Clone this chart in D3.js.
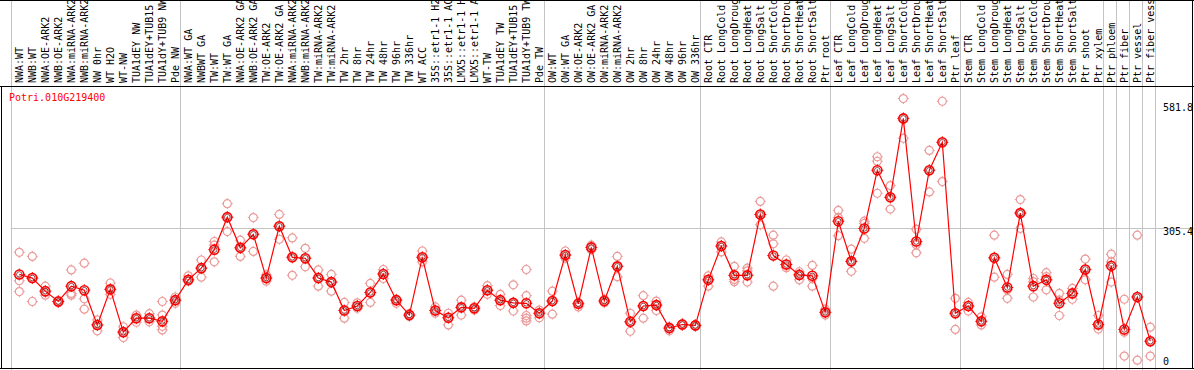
<!DOCTYPE html>
<html>
<head>
<meta charset="utf-8">
<script src="https://cdn.jsdelivr.net/npm/d3@7"></script>
<style>
  body { margin: 0; background: #fff; }
  text { font-family: "DejaVu Sans Mono", monospace; font-size: 10px; }
</style>
</head>
<body>
<div class="chart-container"></div>
<script>
const gene = "Potri.010G219400";

const samples = [
  "NWA:WT", "NWB:WT", "NWA:OE-ARK2", "NWB:OE-ARK2", "NWA:miRNA-ARK2", "NWB:miRNA-ARK2",
  "NW 0hr", "WT H2O", "WT-NW", "TUA1dEY NW", "TUA1dEY+TUB15", "TUA1dY+TUB9 NW", "Pde NW",
  "NWA:WT GA", "NWBWT GA", "TW:WT", "TW:WT GA", "NWA:OE-ARK2 GA", "NWB:OE-ARK2 GA",
  "TW:OE-ARK2", "TW:OE-ARK2 GA", "NWA:miRNA-ARK2", "NWB:miRNA-ARK2", "TW:miRNA-ARK2",
  "TW:miRNA-ARK2", "TW 2hr", "TW 8hr", "TW 24hr", "TW 48hr", "TW 96hr", "TW 336hr",
  "WT ACC", "35S::etr1-1 H2", "35S::etr1-1 AC", "LMX5::etr1-1 H", "LMX5::etr1-1 A",
  "WT-TW", "TUA1dEY TW", "TUA1dEY+TUB15", "TUA1dY+TUB9 TW", "Pde TW",
  "OW:WT", "OW:WT GA", "OW:OE-ARK2", "OW:OE-ARK2 GA", "OW:miRNA-ARK2", "OW:miRNA-ARK2",
  "OW 2hr", "OW 8hr", "OW 24hr", "OW 48hr", "OW 96hr", "OW 336hr",
  "Root CTR", "Root LongCold", "Root LongDroug", "Root LongHeat", "Root LongSalt",
  "Root ShortCold", "Root ShortDrou", "Root ShortHeat", "Root ShortSalt", "Ptr root",
  "Leaf CTR", "Leaf LongCold", "Leaf LongDroug", "Leaf LongHeat", "Leaf LongSalt",
  "Leaf ShortCold", "Leaf ShortDrou", "Leaf ShortHeat", "Leaf ShortSalt", "Ptr leaf",
  "Stem CTR", "Stem LongCold", "Stem LongDroug", "Stem LongHeat", "Stem LongSalt",
  "Stem ShortCold", "Stem ShortDrou", "Stem ShortHeat", "Stem ShortSalt",
  "Ptr shoot", "Ptr xylem", "Ptr phloem", "Ptr fiber", "Ptr vessel", "Ptr fiber vess"
];

// mean expression per sample
const means = [
  203, 195, 166, 143, 177, 168, 91, 170, 75, 106, 106, 99, 146,
  191, 217, 258, 330, 262, 292, 195, 310, 241, 239, 195, 186, 123, 133, 163, 204, 146, 113,
  241, 123, 107, 130, 128, 168, 146, 140, 139, 117,
  144, 246, 138, 263, 144, 221, 98, 133, 135, 84, 92, 90,
  191, 266, 201, 201, 336, 245, 225, 202, 200, 119,
  321, 232, 305, 434, 374, 549, 276, 434, 496, 117,
  133, 99, 240, 174, 339, 177, 191, 139, 161, 214,
  92, 222, 81, 153, 55
];

// individual replicates per sample
const replicates = [
  [252, 189, 165], [243, 143, 195], [177, 157, 163], [145, 140, 143], [213, 161, 157], [228, 149, 126],
  [102, 78, 91], [184, 159, 170], [87, 63, 75], [113, 97, 106], [116, 98, 106], [143, 113, 88, 80], [153, 139, 146],
  [200, 188, 191], [235, 197, 217], [276, 268, 231], [360, 298, 330], [279, 243, 262], [329, 254, 292],
  [202, 188, 195], [336, 281, 310], [284, 201, 241], [261, 220, 239], [213, 177, 195],
  [203, 166, 186], [141, 106, 123], [140, 128, 133], [183, 141, 163], [214, 194, 204], [148, 139, 146], [116, 110, 113],
  [255, 231, 241], [131, 117, 123], [117, 91, 107], [146, 113, 130], [131, 124, 128],
  [178, 159, 168], [159, 134, 146], [180, 122, 140], [214, 156, 112, 106, 100], [124, 107, 117],
  [166, 115, 144], [255, 239, 246], [141, 131, 138], [268, 258, 263], [148, 140, 144], [243, 198, 221],
  [117, 77, 98], [156, 106, 133], [144, 123, 135], [87, 78, 84], [94, 90, 92], [92, 88, 90],
  [200, 177, 191], [275, 253, 266], [221, 192, 187], [217, 211, 186], [365, 313, 336],
  [290, 271, 177], [235, 218, 225], [209, 191, 202], [223, 177, 194], [126, 113, 119],
  [345, 329, 289], [259, 210, 232], [321, 316, 283], [464, 454, 383], [400, 348, 374],
  [593, 505, 549], [303, 251, 269], [478, 386, 434], [587, 409, 496], [150, 81, 117],
  [141, 122, 133], [109, 91, 99], [290, 197, 240], [203, 169, 150], [369, 305, 339],
  [194, 153, 187], [207, 198, 169], [161, 112, 146], [172, 148, 161], [237, 191, 214],
  [112, 82, 92], [248, 231, 186], [148, 75, 22], [290, 13, 153], [86, 22, 55]
];

// last sample index of each group (a grey rule follows it)
const groupEnds = [12, 40, 52, 62, 72, 83, 84, 85, 86, 87];
const yTicks = [0, 305.4, 581.8];

const width = 1194, height = 370;
const headerBottom = 86;

const svg = d3.select(".chart-container").append("svg")
    .attr("width", width)
    .attr("height", height);

const x = d3.scalePoint()
    .domain(d3.range(samples.length))
    .range([19.3, 1150.3]);

const y = d3.scaleLinear()
    .domain([0, 581.8])
    .range([366, 103.6]);

// grey group separators, full height
const sepX = [x(0) - 8.6].concat(groupEnds.map(i => x(i) + 5));
svg.append("g")
    .selectAll("line")
    .data(sepX)
    .join("line")
    .attr("x1", d => Math.round(d) + 0.5)
    .attr("x2", d => Math.round(d) + 0.5)
    .attr("y1", 0)
    .attr("y2", height)
    .attr("stroke", "#c4c4c4")
    .attr("stroke-width", 1);

// horizontal grid at the middle tick
svg.append("line")
    .attr("x1", sepX[0])
    .attr("x2", width)
    .attr("y1", Math.round(y(305.4)) + 0.5)
    .attr("y2", Math.round(y(305.4)) + 0.5)
    .attr("stroke", "#c4c4c4");

// frame
svg.append("line").attr("x1", 0).attr("x2", width).attr("y1", 0.5).attr("y2", 0.5).attr("stroke", "black");
svg.append("line").attr("x1", 0).attr("x2", width).attr("y1", headerBottom + 0.5).attr("y2", headerBottom + 0.5).attr("stroke", "black");
svg.append("line").attr("x1", 0).attr("x2", width).attr("y1", height - 1.5).attr("y2", height - 1.5).attr("stroke", "black");
svg.append("line").attr("x1", 1.5).attr("x2", 1.5).attr("y1", headerBottom).attr("y2", height - 1).attr("stroke", "black");
svg.append("line").attr("x1", width - 1.5).attr("x2", width - 1.5).attr("y1", 0).attr("y2", height - 1).attr("stroke", "black");

// sample labels (rotated)
svg.append("g")
    .selectAll("text")
    .data(samples)
    .join("text")
    .attr("transform", (d, i) => "translate(" + (x(i) + 3.5) + ",83) rotate(-90)")
    .attr("fill", "black")
    .text(d => d);

// right axis labels
svg.append("g")
    .selectAll("text")
    .data(yTicks)
    .join("text")
    .attr("x", 1163)
    .attr("y", d => Math.min(y(d) + 7.2, 365))
    .attr("fill", "black")
    .text(d => d);

// gene name
svg.append("text")
    .attr("x", 9)
    .attr("y", 101)
    .attr("fill", "red")
    .text(gene);

// marker with small ticks
function marker(g, r, color, sw) {
    g.append("path")
        .attr("d", `M0,${-r - 1.5}V${-r}M0,${r}V${r + 1.5}M${-r - 1.5},0H${-r}M${r},0H${r + 1.5}`)
        .attr("stroke", color)
        .attr("stroke-width", 1);
    g.append("circle")
        .attr("r", r)
        .attr("fill", "none")
        .attr("stroke", color)
        .attr("stroke-width", sw);
}

// replicates
const reps = [];
replicates.forEach((arr, i) => arr.forEach(v => reps.push({ i: i, v: v })));
svg.append("g")
    .selectAll("g")
    .data(reps)
    .join("g")
    .attr("transform", d => "translate(" + x(d.i) + "," + y(d.v) + ")")
    .each(function() { marker(d3.select(this), 4, "#eb9a9a", 1.2); });

// mean line
const line = d3.line()
    .x((d, i) => x(i))
    .y(d => y(d));

svg.append("path")
    .datum(means)
    .attr("d", line)
    .attr("fill", "none")
    .attr("stroke", "red")
    .attr("stroke-width", 1.2);

// mean markers
const mg = svg.append("g")
    .selectAll("g")
    .data(means)
    .join("g")
    .attr("transform", (d, i) => "translate(" + x(i) + "," + y(d) + ")");
mg.each(function() { marker(d3.select(this), 4.5, "red", 1.6); });
mg.append("circle")
    .attr("r", 2.8)
    .attr("fill", "none")
    .attr("stroke", "#600")
    .attr("stroke-width", 0.7);
</script>
</body>
</html>
